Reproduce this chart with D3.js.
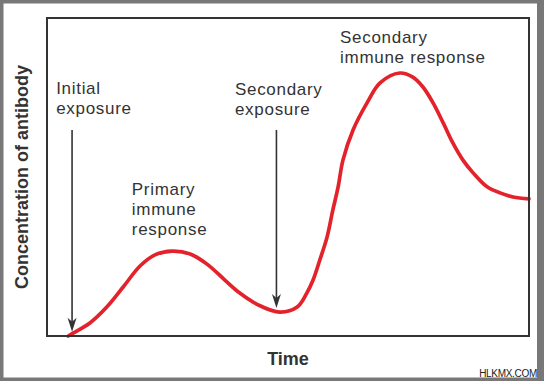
<!DOCTYPE html>
<html>
<head>
<meta charset="utf-8">
<script src="https://cdn.jsdelivr.net/npm/d3@7"></script>
<style>
  html, body { margin: 0; padding: 0; background: #fff; }
  svg { display: block; font-family: "Liberation Sans", Arial, sans-serif; }
</style>
</head>
<body>
<main></main>
<script>
// antibody concentration over time (arbitrary units 0-100)
const times = [4.4, 5.4, 8.9, 12.4, 15.8, 19.3, 22.4, 25.9, 29.7, 33.2, 36.9, 40.0, 43.8, 48.3,
  51.9, 53.9, 55.2, 56.6, 58.1, 59.3, 60.4, 61.4, 63.5, 66.4, 69.1, 73.2, 75.9, 78.0, 80.1,
  82.2, 84.2, 86.3, 88.4, 91.3, 94.0, 96.7, 100];
const concentration = [0, 0.9, 4.1, 9.1, 15.4, 22.0, 25.5, 26.7, 25.8, 22.6, 17.6, 13.5, 9.8, 7.5,
  9.1, 13.5, 17.6, 23.9, 31.1, 39.6, 46.9, 55.3, 64.8, 73.3, 79.6, 82.7, 81.4, 78.3, 73.3,
  67.0, 60.7, 55.3, 51.3, 46.9, 45.0, 43.7, 43.1];

// exposure events (arrows)
const exposureTimes = [5.2, 47.6];
const arrowTop = 64.8;
const arrowTips = [1.3, 8.8];

// annotation labels, anchored at (time, concentration)
const labelLines = [["Initial", "exposure"], ["Secondary", "exposure"],
  ["Primary", "immune", "response"], ["Secondary", "immune response"]];
const labelTimes = [1.9, 39.0, 17.6, 60.8];
const labelConc = [76.1, 75.8, 44.3, 92.1];

const xTitle = "Time";
const yTitle = "Concentration of antibody";
const credit = "HLKMX.COM";

const w = 548, h = 381,
  margin = {top: 18, right: 19, bottom: 45, left: 47},
  ink = "#333";

const svg = d3.select("main").append("svg")
  .attr("width", w)
  .attr("height", h);

// outer grey frame
svg.append("rect")
  .attr("x", 0).attr("y", 0)
  .attr("width", 540.5).attr("height", 381)
  .attr("fill", "none")
  .attr("stroke", "#787878")
  .attr("stroke-width", 7);

const xScale = d3.scaleLinear().domain([0, 100]).range([margin.left, w - margin.right]);
const yScale = d3.scaleLinear().domain([0, 100]).range([h - margin.bottom, margin.top]);

const data = times.map((t, i) => ({t: t, c: concentration[i]}));

const line = d3.line()
  .x(d => xScale(d.t))
  .y(d => yScale(d.c))
  .curve(d3.curveCatmullRom.alpha(0.5));

svg.append("path")
  .datum(data)
  .attr("d", line)
  .attr("fill", "none")
  .attr("stroke", "#e3232c")
  .attr("stroke-width", 3.7)
  .attr("stroke-linecap", "round");

// plot box
svg.append("rect")
  .attr("x", xScale(0)).attr("y", yScale(100))
  .attr("width", xScale(100) - xScale(0))
  .attr("height", yScale(0) - yScale(100))
  .attr("fill", "none")
  .attr("stroke", ink)
  .attr("stroke-width", 2);

// arrows
exposureTimes.forEach((t, i) => {
  const x = xScale(t), y0 = yScale(arrowTop), tip = yScale(arrowTips[i]);
  svg.append("line")
    .attr("x1", x).attr("x2", x)
    .attr("y1", y0).attr("y2", tip - 9)
    .attr("stroke", ink)
    .attr("stroke-width", 1.6);
  svg.append("path")
    .attr("d", `M${x},${tip} L${x - 4.5},${tip - 14} L${x},${tip - 10} L${x + 4.5},${tip - 14} Z`)
    .attr("fill", ink);
});

// labels
labelLines.forEach((lines, i) => {
  const txt = svg.append("text")
    .attr("x", xScale(labelTimes[i]))
    .attr("y", yScale(labelConc[i]))
    .attr("fill", ink)
    .style("font-size", "17px")
    .style("letter-spacing", "0.7px");
  lines.forEach((s, j) => {
    txt.append("tspan")
      .attr("x", xScale(labelTimes[i]))
      .attr("dy", j === 0 ? 0 : 20)
      .text(s);
  });
});

// axis titles
svg.append("text")
  .attr("x", (xScale(0) + xScale(100)) / 2)
  .attr("y", 365)
  .attr("text-anchor", "middle")
  .attr("fill", ink)
  .style("font-size", "18px")
  .style("font-weight", "bold")
  .text(xTitle);

svg.append("text")
  .attr("transform", "rotate(-90)")
  .attr("x", -(yScale(0) + yScale(100)) / 2)
  .attr("y", 28)
  .attr("text-anchor", "middle")
  .attr("fill", ink)
  .style("font-size", "18px")
  .style("font-weight", "bold")
  .text(yTitle);

svg.append("text")
  .attr("x", 537)
  .attr("y", 377)
  .attr("text-anchor", "end")
  .attr("fill", "#222")
  .style("font-size", "10px")
  .style("letter-spacing", "-0.3px")
  .text(credit);
</script>
</body>
</html>
